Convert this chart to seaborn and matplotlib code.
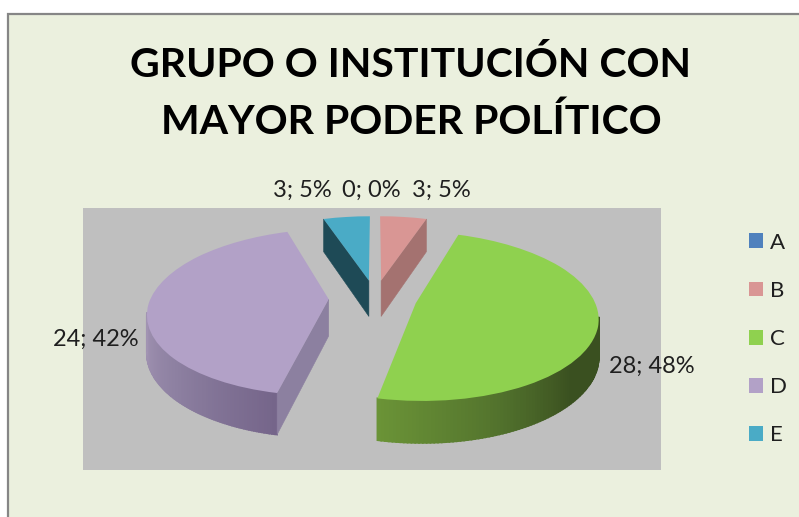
import numpy as np
import matplotlib
matplotlib.use('Agg')
import matplotlib.pyplot as plt
from matplotlib.patches import Rectangle
from matplotlib.transforms import Transform
import seaborn as sns

categories = ['A', 'B', 'C', 'D', 'E']
values = [0, 3, 28, 24, 3]
value_labels = ['0; 0%', '3; 5%', '28; 48%', '24; 42%', '3; 5%']
title_lines = ['GRUPO O INSTITUCIÓN CON', 'MAYOR PODER POLÍTICO']

colors = ['#4F81BD', '#D99694', '#8FD14F', '#B2A1C7', '#4AABC6']
face_colors = {1: '#A47270', 3: '#8C80A0', 4: '#1E4A56'}
rim_colors = {2: ['#6B9437', '#55762E', '#3A5020', '#3A5020'],
              3: ['#A294B3', '#8C7FA0', '#75658A']}

sns.set_theme(style='white')
plt.rcParams['font.family'] = ['Lato', 'DejaVu Sans']

W, H = 799, 517
CX, CY, RX, RY = 375, 298, 178, 83


def project(x, y):
    # fake 3d: back of the pie is narrower and flatter than the front
    return x * (1 - 0.16 * y), y - 0.157 * y * y


class Persp(Transform):
    input_dims = 2
    output_dims = 2
    is_separable = False

    def transform_non_affine(self, pts):
        pts = np.asarray(pts)
        return np.column_stack(project(pts[:, 0], pts[:, 1]))


def depth(y):
    return (37.5 - 4.3 * y) / RY * 0.98


fig = plt.figure(figsize=(W / 100, H / 100), dpi=100, facecolor='white')

bg = fig.add_axes([0, 0, 1, 1])
bg.set_xlim(0, W)
bg.set_ylim(H, 0)
bg.axis('off')
bg.add_patch(Rectangle((8, 14), W, H, fc='#EBF0DE', ec='#868686', lw=1.6))
bg.add_patch(Rectangle((83, 208), 578, 262, fc='#BFBFBF', ec='none'))

ax = fig.add_axes([0, 0, 1, 1])
ax.patch.set_alpha(0)
explode = [0.22, 0.22, 0.235, 0.26, 0.22]
wedges, _ = ax.pie(values, colors=colors, explode=explode, startangle=90,
                   counterclock=False, wedgeprops={'linewidth': 0})
ax.set_aspect('auto')
ax.set_xlim(-CX / RX, (W - CX) / RX)
ax.set_ylim((CY - H) / RY, CY / RY)
ax.axis('off')

persp = Persp()
for w in wedges:
    w.set_transform(persp + ax.transData)
    w.set_zorder(5)
    w.set_clip_on(False)

# side walls, worked out from the same wedges that pie made
for i, w in enumerate(wedges):
    if values[i] == 0:
        continue
    cx, cy = w.center
    # wedge angles to clockwise angle from the top
    start = 90 - w.theta2
    end = 90 - w.theta1
    if i in rim_colors:
        # 99/261 is where the squeezed outline is widest
        lo, hi = max(start, 99), min(end, 261)
        th = np.radians(np.linspace(lo, hi, 90))
        xs, ys = project(cx + np.sin(th), cy + np.cos(th))
        pal = sns.blend_palette(rim_colors[i], 90)
        # palette runs left to right on screen
        order = np.argsort(xs)
        rank = np.empty(len(xs), dtype=int)
        rank[order] = np.arange(len(xs))
        for k in range(len(th) - 1):
            qx = [xs[k], xs[k + 1], xs[k + 1], xs[k]]
            qy = [ys[k], ys[k + 1], ys[k + 1] - depth(ys[k + 1]), ys[k] - depth(ys[k])]
            ax.fill(qx, qy, color=pal[rank[k]], lw=1.2, zorder=3, clip_on=False)
    if i in face_colors:
        edge = {1: end, 3: start, 4: start}[i]
        t = np.radians(edge)
        x0, y0 = project(cx, cy)
        x1, y1 = project(cx + np.sin(t), cy + np.cos(t))
        ax.fill([x0, x1, x1, x0], [y0, y1, y1 - depth(y1), y0 - depth(y0)],
                color=face_colors[i], lw=0.4, zorder=4, clip_on=False)

label_pos = [(371, 190), (441, 190), (652, 366), (96, 339), (302, 190)]
for lab, (px, py) in zip(value_labels, label_pos):
    bg.text(px, py, lab, ha='center', va='center', fontsize=17, color='#1F1F1F')

for line, py in zip(title_lines, [65, 122]):
    bg.text(411, py, line, ha='center', va='center', fontsize=29.5, fontweight='bold',
            color='black')

bg.legend(wedges, categories, loc='center left', bbox_to_anchor=(729, 339),
          bbox_transform=bg.transData, frameon=False, fontsize=16, handlelength=0.65,
          handleheight=0.65, handletextpad=0.3, labelspacing=1.27, labelcolor='#1F1F1F')

fig.savefig('out.png', dpi=100, facecolor=fig.get_facecolor())
